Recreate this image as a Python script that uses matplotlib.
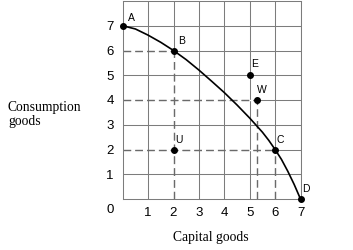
import matplotlib
matplotlib.use("Agg")
from matplotlib import pyplot as plt

# production possibilities frontier
curve_x = [0, 0.5, 1, 1.5, 2, 2.5, 3, 3.5, 4, 4.5, 5, 5.5, 5.75, 6, 6.25, 6.5, 6.75, 7]
curve_y = [7, 6.87, 6.62, 6.33, 6.0, 5.63, 5.21, 4.76, 4.3, 3.8, 3.27, 2.7, 2.37, 2.0, 1.6, 1.12, 0.59, 0]

point_names = ["A", "B", "E", "W", "U", "C", "D"]
point_x = [0, 2, 5, 5.3, 2, 6, 7]
point_y = [7, 6, 5, 4, 2, 2, 0]
guides = ["B", "W", "C"]

tick_labels = ["1", "2", "3", "4", "5", "6", "7"]

gridc = "#7c7c7c"
dashc = "#6a6a6a"

fig = plt.figure(figsize=(3.53, 2.5), dpi=100)
ax = fig.add_axes([122.7 / 353, 51 / 250, 177.8 / 353, 198 / 250])
ax.set_xlim(0, 7)
ax.set_ylim(0, 8)

ticks = list(range(1, 8))
ax.set_xticks(ticks)
ax.set_yticks(ticks)
ax.set_xticklabels(tick_labels, family="Liberation Sans", fontsize=9.5)
ax.set_yticklabels(tick_labels, family="Liberation Sans", fontsize=9.5)
ax.tick_params(length=0, pad=5.5)
ax.tick_params(axis="y", pad=6.5)
ax.grid(True, color=gridc, linewidth=0.75)
for s in ax.spines.values():
    s.set_color(gridc)
    s.set_linewidth(0.75)
ax.set_axisbelow(True)

ax.annotate("0", (0, 0), xytext=(-9, -8), textcoords="offset points",
            ha="center", va="center", family="Liberation Sans", fontsize=9.5,
            annotation_clip=False)

# dashed guides: the grid line under them is broken up (white gaps)
pts = dict(zip(point_names, zip(point_x, point_y)))
for name in guides:
    gx, gy = pts[name]
    ax.plot([0, gx], [gy, gy], color=dashc, gapcolor="white", lw=1.0,
            dashes=(5.5, 3), zorder=2.5)
    ax.plot([gx, gx], [0, gy], color=dashc, gapcolor="white", lw=1.0,
            dashes=(5.5, 3), zorder=2.5)

ax.plot(curve_x, curve_y, color="black", lw=1.2, zorder=3, clip_on=False)
ax.plot(point_x, point_y, "o", color="black", ms=4, zorder=4, clip_on=False)

offsets = {"A": (6, 5.5), "B": (6, 6.5), "E": (3.5, 8), "W": (3.5, 7.2),
           "U": (4, 6.5), "C": (3.5, 6.5), "D": (4, 7)}
for name, x, y in zip(point_names, point_x, point_y):
    ax.annotate(name, (x, y), xytext=offsets[name], textcoords="offset points",
                ha="center", va="center", family="Liberation Sans", fontsize=7.5,
                annotation_clip=False)

fig.text(8 / 353, 1 - 110.7 / 250, "Consumption", family="Liberation Serif",
         fontsize=9.8, va="baseline", ha="left")
fig.text(8 / 353, 1 - 125 / 250, "goods", family="Liberation Serif",
         fontsize=9.8, va="baseline", ha="left")
fig.text(211 / 353, 1 - 240.7 / 250, "Capital goods", family="Liberation Serif",
         fontsize=9.8, va="baseline", ha="center")

plt.savefig("out.png", dpi=100)
